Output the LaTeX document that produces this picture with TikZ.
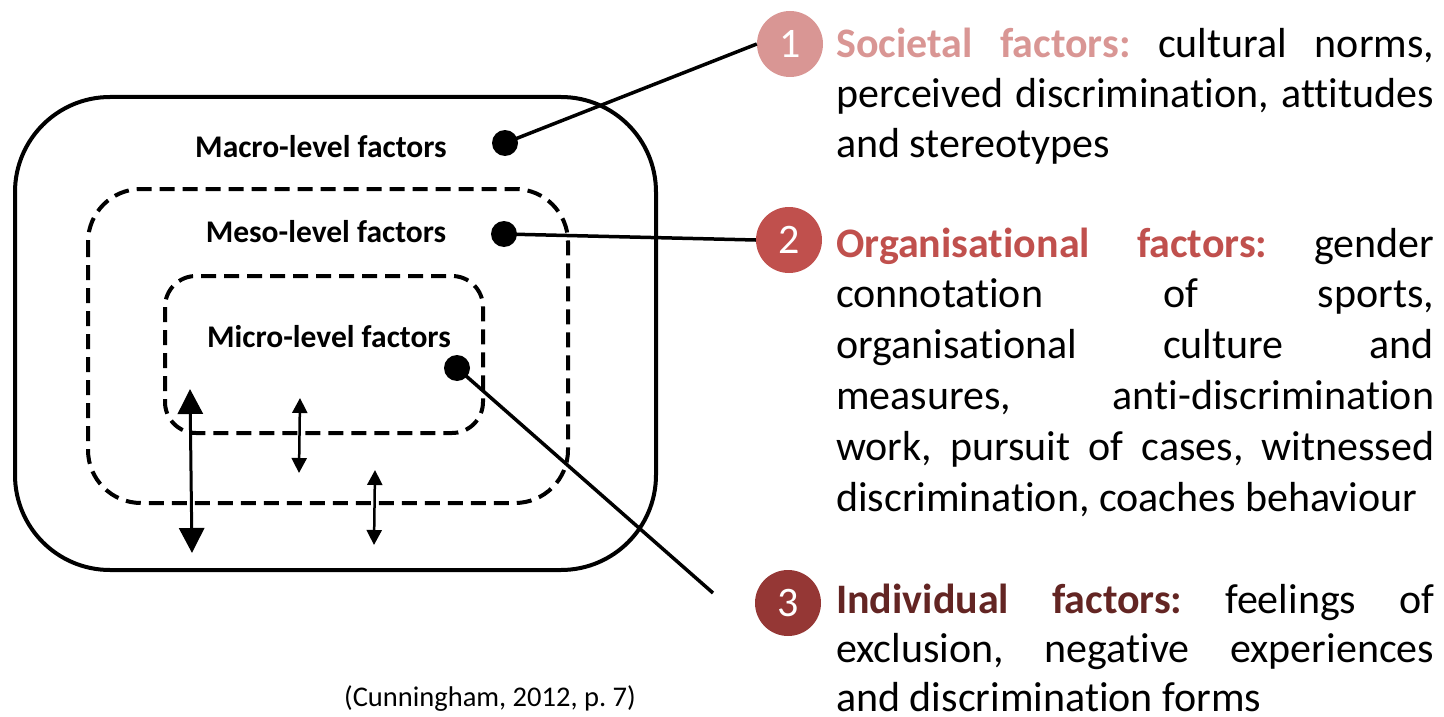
\documentclass[tikz,border=0pt]{standalone}
\usepackage{fontspec}
\setmainfont{Carlito}[Ligatures=NoCommon]
\usetikzlibrary{arrows.meta}
\definecolor{cone}{HTML}{D99694}
\definecolor{ctwo}{HTML}{C0504D}
\definecolor{cthree}{HTML}{953735}
\definecolor{hthree}{HTML}{632523}
\tikzset{
  levelbox/.style={line width=4pt},
  dashbox/.style={line width=4pt, dash pattern=on 15pt off 8pt},
  levellabel/.style={font=\fontsize{31.5}{38}\selectfont\bfseries, anchor=base, inner sep=0pt},
  dotnode/.style={circle, fill=black, minimum size=26pt, inner sep=0pt},
  numcircle/.style={circle, minimum size=66pt, inner sep=0pt, text=white, font=\fontsize{42}{50}\selectfont},
  para/.style={inner sep=0pt, anchor=base west, font=\fontsize{42}{50}\selectfont},
  connector/.style={line width=3.5pt},
  bigarrow/.style={line width=3pt, {Triangle[length=25pt,width=25pt]}-{Triangle[length=25pt,width=25pt]}},
  smallarrow/.style={line width=2.5pt, {Triangle[length=15pt,width=15pt]}-{Triangle[length=15pt,width=15pt]}},
}
\frenchspacing
\newcommand{\fullline}[1]{\hbox to 598pt{\frenchspacing #1}}
\newcommand{\lastline}[1]{\hbox{\frenchspacing #1}}
\begin{document}
\begin{tikzpicture}[x=1pt,y=-1pt]
\useasboundingbox (0,0) rectangle (1444,717);
% nested level boxes
\draw[levelbox, rounded corners=95pt] (15,97) rectangle (656,570);
\draw[dashbox, rounded corners=53pt] (88,189) rectangle (568,503);
\draw[dashbox, rounded corners=31pt] (165,276) rectangle (483,433);
% labels
\node[levellabel] (macro) at (321,157) {Macro-level factors};
\node[levellabel] (meso) at (326,242) {Meso-level factors};
\node[levellabel] (micro) at (329,347) {Micro-level factors};
% dots
\node[dotnode] (d1) at (505,143) {};
\node[dotnode] (d2) at (504,234) {};
\node[dotnode] (d3) at (457,368) {};
% number circles
\node[numcircle, fill=cone] (n1) at (790,44) {1};
\node[numcircle, fill=ctwo] (n2) at (789,240) {2};
\node[numcircle, fill=cthree] (n3) at (788,603) {3};
% connectors
\coordinate (e3) at (713,593);
\draw[connector] (d1.center) -- (n1.west);
\draw[connector] (d2.center) -- (n2.west);
\draw[connector] (d3.center) -- (e3);
% interaction arrows
\coordinate (a1t) at (190,389);
\coordinate (a1b) at (192,553);
\coordinate (a2t) at (300,398);
\coordinate (a2b) at (299,473);
\coordinate (a3t) at (375,470);
\coordinate (a3b) at (374,545);
\draw[bigarrow] (a1t) -- (a1b);
\draw[smallarrow] (a2t) -- (a2b);
\draw[smallarrow] (a3t) -- (a3b);
% text blocks
\node[para] (t1) at (836,58) {\vtop{%
\fullline{\textcolor{cone}{\bfseries Societal factors:} cultural norms,}%
\fullline{perceived discrimination, attitudes}%
\lastline{and stereotypes}}};
\node[para, font=\fontsize{42}{50.8}\selectfont] (t2) at (836,257) {\vtop{%
\fullline{\textcolor{ctwo}{\bfseries Organisational factors:} gender}%
\fullline{connotation of sports,}%
\fullline{organisational culture and}%
\fullline{measures, anti-discrimination}%
\fullline{work, pursuit of cases, witnessed}%
\lastline{discrimination, coaches behaviour}}};
\node[para, font=\fontsize{42}{49}\selectfont] (t3) at (836,613) {\vtop{%
\fullline{\textcolor{hthree}{\bfseries Individual factors:} feelings of}%
\fullline{exclusion, negative experiences}%
\lastline{and discrimination forms}}};
% citation
\node[anchor=base, inner sep=0pt, font=\fontsize{28.5}{34}\selectfont] (cite) at (490,706) {(Cunningham, 2012, p.~7)};
\end{tikzpicture}
\end{document}
